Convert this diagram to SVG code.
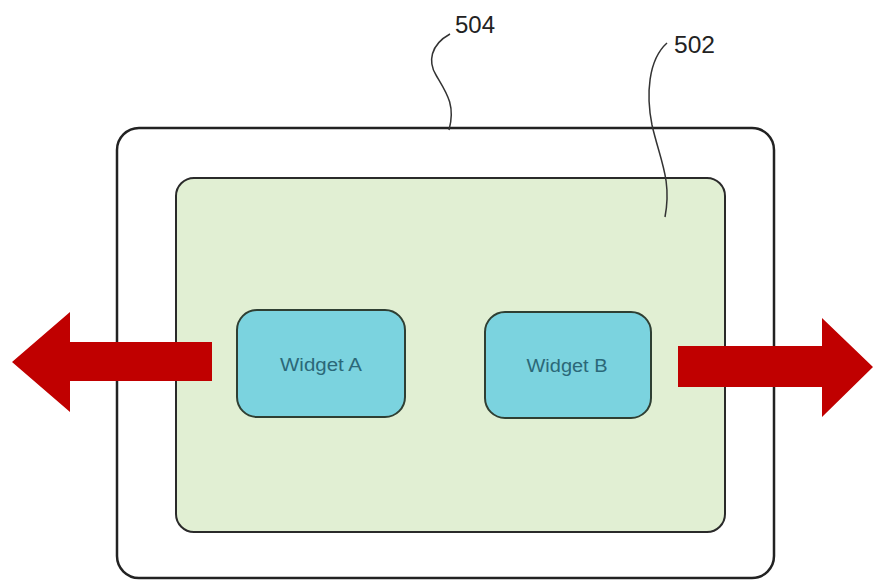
<svg xmlns="http://www.w3.org/2000/svg" width="873" height="582" viewBox="0 0 873 582">
<style>
.lbl{font-family:"Liberation Sans",Arial,sans-serif;font-size:23px;fill:#222}
.wt{font-family:"Liberation Sans",Arial,sans-serif;font-size:18px;fill:#2b6878;text-anchor:middle}
.widget{fill:#7bd3df;stroke:#2f3f33;stroke-width:2}
.lead{fill:none;stroke:#333;stroke-width:1.5}
.arrow{fill:#c00000}
</style>
<rect width="873" height="582" fill="#fff"/>
<g id="n504">
<rect x="117" y="128" width="657" height="450" rx="22" fill="#fff" stroke="#222" stroke-width="2.5"/>
</g>
<g id="n502">
<rect x="176" y="178" width="549" height="354" rx="18" fill="#e1efd3" stroke="#2a2a2a" stroke-width="2"/>
</g>
<g id="widgetA">
<rect class="widget" x="237" y="310" width="168" height="107" rx="20"/>
<text class="wt" x="321" y="371" textLength="82" lengthAdjust="spacingAndGlyphs">Widget A</text>
</g>
<g id="widgetB">
<rect class="widget" x="485" y="312" width="166" height="106" rx="20"/>
<text class="wt" x="567" y="372" textLength="81" lengthAdjust="spacingAndGlyphs">Widget B</text>
</g>
<g id="connectors">
<polygon class="arrow" points="212,342 70,342 70,312 12,362 70,412 70,381 212,381"/>
<polygon class="arrow" points="678,346 822,346 822,318 873,367 822,417 822,387 678,387"/>
<path class="lead" d="M450,34 C430,45 428,62 436,75 C446,92 456,105 449,130"/>
<path class="lead" d="M667,43 C648,60 646,95 652,125 C660,160 672,180 665,217"/>
</g>
<g id="labels">
<text class="lbl" x="455" y="33" textLength="40" lengthAdjust="spacingAndGlyphs">504</text>
<text class="lbl" x="674" y="53" textLength="41" lengthAdjust="spacingAndGlyphs">502</text>
</g>
</svg>
